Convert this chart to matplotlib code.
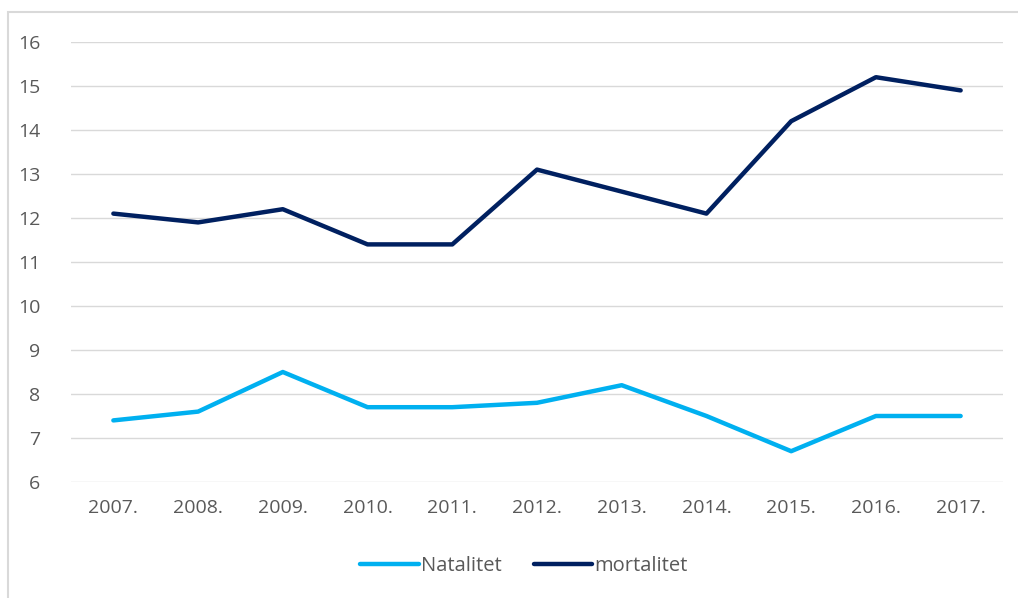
import matplotlib.pyplot as plt
from matplotlib.patches import Rectangle

years = ['2007.', '2008.', '2009.', '2010.', '2011.', '2012.',
         '2013.', '2014.', '2015.', '2016.', '2017.']
natalitet = [7.4, 7.6, 8.5, 7.7, 7.7, 7.8, 8.2, 7.5, 6.7, 7.5, 7.5]
mortalitet = [12.1, 11.9, 12.2, 11.4, 11.4, 13.1, 12.6, 12.1, 14.2, 15.2, 14.9]
yticks = [6, 7, 8, 9, 10, 11, 12, 13, 14, 15, 16]

plt.rcParams['font.family'] = ['Open Sans', 'DejaVu Sans']

W, H = 1018, 598
fig = plt.figure(figsize=(W / 100, H / 100), dpi=100)

# outer chart frame (Excel style), only top and left edges visible
fig.patches.append(Rectangle((8 / W, -0.2), 1.2, 1.2 - 12 / H, transform=fig.transFigure,
                             fill=False, edgecolor='#D9D9D9', linewidth=1.5))

ax = fig.add_axes([71 / W, 1 - 482 / H, (1003 - 71) / W, (482 - 42) / H])

x = range(len(years))
ax.plot(x, natalitet, color='#00B0F0', linewidth=3.2, label='Natalitet', solid_capstyle='round')
ax.plot(x, mortalitet, color='#002060', linewidth=3.2, label='mortalitet', solid_capstyle='round')

ax.set_xlim(-0.5, len(years) - 0.5)
ax.set_ylim(6, 16)
ax.set_yticks(yticks)
ax.set_xticks(list(x))
ax.set_xticklabels(years)
ax.grid(axis='y', color='#D9D9D9', linewidth=1)
ax.set_axisbelow(True)
for s in ax.spines.values():
    s.set_visible(False)
ax.tick_params(length=0, labelsize=14, colors='#595959')
ax.tick_params(axis='y', pad=22)
ax.tick_params(axis='x', pad=12)

leg = fig.legend(loc='center', bbox_to_anchor=(524 / W, 1 - 566 / H), ncol=2,
                 frameon=False, fontsize=14.5, handlelength=2.9, handletextpad=0.1,
                 columnspacing=1.6)
for t in leg.get_texts():
    t.set_color('#595959')

fig.savefig('out.png', dpi=100)
